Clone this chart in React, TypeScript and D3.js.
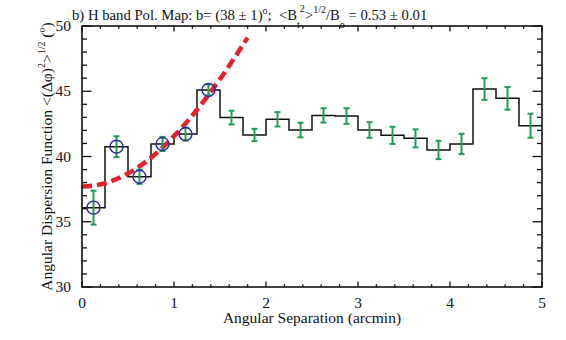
import React from "react";
import * as d3 from "d3";

const binCenters = [0.125, 0.375, 0.625, 0.875, 1.125, 1.375, 1.625, 1.875, 2.125, 2.375, 2.625, 2.875, 3.125, 3.375, 3.625, 3.875, 4.125, 4.375, 4.625, 4.875];
const dispValues = [36.08, 40.75, 38.45, 40.96, 41.72, 45.1, 42.98, 41.65, 42.85, 42.03, 43.15, 43.1, 42.03, 41.62, 41.39, 40.5, 40.96, 45.17, 44.46, 42.36];
const dispErrors = [1.3, 0.8, 0.55, 0.54, 0.5, 0.42, 0.53, 0.47, 0.55, 0.56, 0.55, 0.6, 0.6, 0.66, 0.69, 0.7, 0.78, 0.83, 0.87, 0.92];
const fittedCount = 6;
const fitX = [0, 0.25, 0.5, 0.75, 1.0, 1.25, 1.5, 1.8];
const fitY = [37.7, 37.95, 38.7, 39.91, 41.56, 43.58, 45.93, 49.11];
const xTicks = [0, 1, 2, 3, 4, 5];
const yTicks = [30, 35, 40, 45, 50];
const binWidth = 0.25;

const L = 82, R = 542, T = 26, B = 287;
const FONT = "Liberation Serif, DejaVu Serif, serif";

export default function App() {
  const x = d3.scaleLinear().domain([0, 5]).range([L, R]);
  const y = d3.scaleLinear().domain([30, 50]).range([B, T]);

  const stepPts: [number, number][] = [];
  binCenters.forEach((c, i) => {
    stepPts.push([c - binWidth / 2, dispValues[i]]);
    stepPts.push([c + binWidth / 2, dispValues[i]]);
  });
  const stepLine = d3.line<[number, number]>().x(d => x(d[0])).y(d => y(d[1]));

  const fitLine = d3
    .line<number>()
    .x((_, i) => x(fitX[i]))
    .y(d => y(d))
    .curve(d3.curveMonotoneX);

  const xMinor = d3.range(0, 5.0001, 0.2);
  const yMinor = d3.range(30, 50.0001, 1);

  const green = "#1f9e5a";
  const blue = "#2a2a9c";
  const red = "#e5202a";
  const fs = 15.5;
  const ss = 10;
  const yc = (T + B) / 2;

  return (
    <svg width={566} height={340} style={{ display: "block", position: "absolute", left: 0, top: 0, background: "#fff" }}>
      <rect x={0} y={0} width={566} height={340} fill="#fff" />
      <path d={stepLine(stepPts) || ""} fill="none" stroke="#111" strokeWidth={1.5} />
      <path d={fitLine(fitY) || ""} fill="none" stroke={red} strokeWidth={4.5} strokeDasharray="10,5" />
      {binCenters.map((c, i) => {
        const cx = x(c);
        const y1 = y(dispValues[i] + dispErrors[i]);
        const y2 = y(dispValues[i] - dispErrors[i]);
        return (
          <g key={"e" + i} stroke={green} strokeWidth={2}>
            <line x1={cx} x2={cx} y1={y1} y2={y2} />
            <line x1={cx - 3} x2={cx + 3} y1={y1} y2={y1} />
            <line x1={cx - 3} x2={cx + 3} y1={y2} y2={y2} />
          </g>
        );
      })}
      {binCenters.slice(0, fittedCount).map((c, i) => (
        <circle key={"c" + i} cx={x(c)} cy={y(dispValues[i])} r={6.5} fill="none" stroke={blue} strokeWidth={1.4} />
      ))}
      <rect x={L} y={T} width={R - L} height={B - T} fill="none" stroke="#111" strokeWidth={1.6} />
      {xMinor.map((v, i) => {
        const major = Math.abs(v - Math.round(v)) < 1e-6;
        const len = major ? 5.5 : 2.8;
        return (
          <g key={"xt" + i} stroke="#111" strokeWidth={1.3}>
            <line x1={x(v)} x2={x(v)} y1={B} y2={B - len} />
            <line x1={x(v)} x2={x(v)} y1={T} y2={T + len} />
          </g>
        );
      })}
      {yMinor.map((v, i) => {
        const major = v % 5 === 0;
        const len = major ? 9.5 : 5;
        return (
          <g key={"yt" + i} stroke="#111" strokeWidth={1.3}>
            <line x1={L} x2={L + len} y1={y(v)} y2={y(v)} />
            <line x1={R} x2={R - len} y1={y(v)} y2={y(v)} />
          </g>
        );
      })}
      <g fontFamily={FONT} fontSize={fs} fill="#111">
        {xTicks.map(v => (
          <text key={"xl" + v} x={x(v)} y={307.5} textAnchor="middle">{v}</text>
        ))}
        {yTicks.map(v => (
          <text key={"yl" + v} x={71} y={y(v) + 5} textAnchor="end">{v}</text>
        ))}
        <text x={(L + R) / 2} y={323} textAnchor="middle">Angular Separation (arcmin)</text>
        <text transform={`translate(52, ${yc}) rotate(-90)`} x={0} y={0} textAnchor="middle">
          <tspan>Angular Dispersion Function &lt;(Δφ)</tspan>
          <tspan fontSize={ss} dy={-7}>2</tspan>
          <tspan dy={7}>&gt;</tspan>
          <tspan fontSize={ss} dy={-7}>1/2</tspan>
          <tspan dy={7}>{"\u00a0("}</tspan>
          <tspan fontSize={ss} dy={-7}>o</tspan>
          <tspan dy={7}>)</tspan>
        </text>
        <text x={72} y={19.5} fontSize={14.7}>
          <tspan>b) H band Pol. Map: b= (38 ± 1)</tspan>
          <tspan fontSize={ss} dy={-6}>o</tspan>
          <tspan dy={6}>{";\u00a0 <B"}</tspan>
          <tspan fontSize={ss} dy={8.5}>t</tspan>
          <tspan fontSize={ss} dy={-16}>2</tspan>
          <tspan dy={7.5}>&gt;</tspan>
          <tspan fontSize={ss} dy={-7}>1/2</tspan>
          <tspan dy={7}>/B</tspan>
          <tspan fontSize={ss} dy={8.5}>o</tspan>
          <tspan dy={-8.5}>{" = 0.53 ± 0.01"}</tspan>
        </text>
      </g>
    </svg>
  );
}
